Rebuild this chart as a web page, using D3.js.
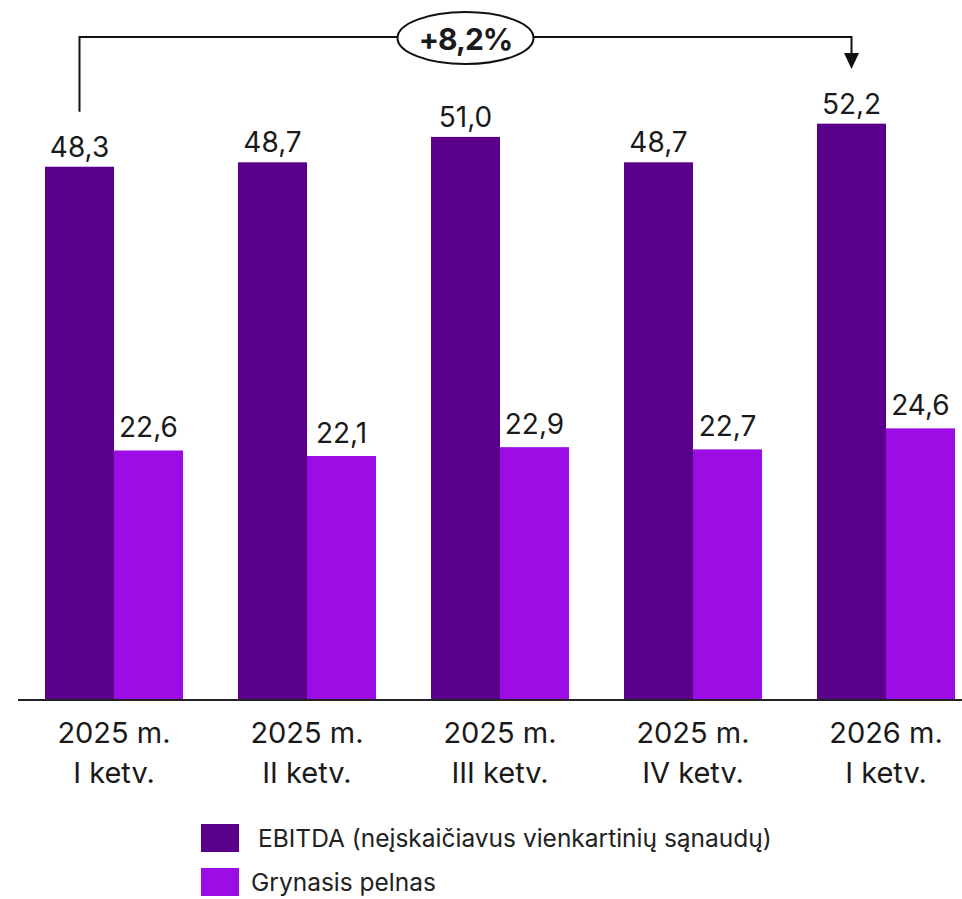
<!DOCTYPE html>
<html>
<head>
<meta charset="utf-8">
<script src="https://cdn.jsdelivr.net/npm/d3@7"></script>
<style>
  body { margin: 0; background: #fff; }
  text { font-family: Inter, "Open Sans", sans-serif; fill: #1a1a1a; }
</style>
</head>
<body>
<div id="chart"></div>
<script>
  // duomenys
  var quartersTop = ["2025 m.", "2025 m.", "2025 m.", "2025 m.", "2026 m."];
  var quartersBottom = ["I ketv.", "II ketv.", "III ketv.", "IV ketv.", "I ketv."];
  var ebitda = [48.3, 48.7, 51.0, 48.7, 52.2];
  var pelnas = [22.6, 22.1, 22.9, 22.7, 24.6];
  var seriesNames = ["EBITDA (neįskaičiavus vienkartinių sąnaudų)", "Grynasis pelnas"];
  var seriesColors = ["#5b008b", "#9b0de4"];
  var growthLabel = "+8,2%";

  var width = 962,
      height = 899,
      baseY = 700;

  var svg = d3.select("#chart")
      .append("svg")
      .attr("width", width)
      .attr("height", height);

  var x = d3.scaleBand()
      .domain(d3.range(ebitda.length))
      .range([17.5, 982.5])
      .paddingInner(0.285)
      .paddingOuter(0.1425);

  var sub = d3.scaleBand()
      .domain([0, 1])
      .range([0, x.bandwidth()]);

  var y = d3.scaleLinear()
      .domain([0, 63.4])
      .range([baseY, 0]);

  var fmt = function(v) { return d3.format(".1f")(v).replace(".", ","); };

  var series = [ebitda, pelnas];

  series.forEach(function(vals, si) {
    var g = svg.append("g");
    g.selectAll("rect")
      .data(vals)
    .enter().append("rect")
      .attr("x", function(d, i) { return x(i) + sub(si); })
      .attr("y", function(d) { return y(d); })
      .attr("width", sub.bandwidth())
      .attr("height", function(d) { return baseY - y(d); })
      .attr("fill", seriesColors[si]);

    g.selectAll("text")
      .data(vals)
    .enter().append("text")
      .attr("x", function(d, i) { return x(i) + sub(si) + sub.bandwidth() / 2; })
      .attr("y", function(d) { return y(d) - (si === 0 ? 10 : 13); })
      .attr("text-anchor", "middle")
      .style("font-size", "28px")
      .text(fmt);
  });

  // x ašis
  svg.append("line")
    .attr("x1", 18).attr("x2", width)
    .attr("y1", baseY).attr("y2", baseY)
    .attr("stroke", "#222")
    .attr("stroke-width", 2);

  var labels = svg.append("g").selectAll("text")
      .data(quartersTop)
    .enter().append("text")
      .attr("x", function(d, i) { return x(i) + x.bandwidth() / 2; })
      .attr("text-anchor", "middle")
      .style("font-size", "29px");
  labels.append("tspan")
    .attr("y", 743)
    .text(function(d) { return d; });
  labels.append("tspan")
    .attr("x", function(d, i) { return x(i) + x.bandwidth() / 2; })
    .attr("y", 783)
    .text(function(d, i) { return quartersBottom[i]; });

  // augimo rodyklė
  var x0 = x(0) + sub(0) + sub.bandwidth() / 2,
      x1 = x(4) + sub(0) + sub.bandwidth() / 2,
      topY = 37;

  svg.append("path")
    .attr("d", "M" + x0 + "," + (y(ebitda[0]) - 55) + "V" + topY + "H" + x1 + "V" + 55)
    .attr("fill", "none")
    .attr("stroke", "#111")
    .attr("stroke-width", 2);

  svg.append("path")
    .attr("d", "M" + (x1 - 7.5) + ",53L" + (x1 + 7.5) + ",53L" + x1 + ",69Z")
    .attr("fill", "#111");

  var cx = 465.5;
  svg.append("ellipse")
    .attr("cx", cx).attr("cy", 38)
    .attr("rx", 68).attr("ry", 26)
    .attr("fill", "#fff")
    .attr("stroke", "#111")
    .attr("stroke-width", 2);

  svg.append("text")
    .attr("x", cx).attr("y", 50)
    .attr("text-anchor", "middle")
    .style("font-size", "30px")
    .style("font-weight", "bold")
    .style("letter-spacing", "-1px")
    .text(growthLabel);

  // legenda
  var leg = svg.append("g").selectAll("g")
      .data(seriesNames)
    .enter().append("g")
      .attr("transform", function(d, i) { return "translate(201," + (824 + i * 44) + ")"; });

  leg.append("rect")
    .attr("width", 38).attr("height", 28)
    .attr("fill", function(d, i) { return seriesColors[i]; });

  leg.append("text")
    .attr("x", function(d, i) { return i === 0 ? 57 : 50; })
    .attr("y", 23)
    .style("font-size", "24.5px")
    .style("fill", "#222")
    .text(function(d) { return d; });
</script>
</body>
</html>
